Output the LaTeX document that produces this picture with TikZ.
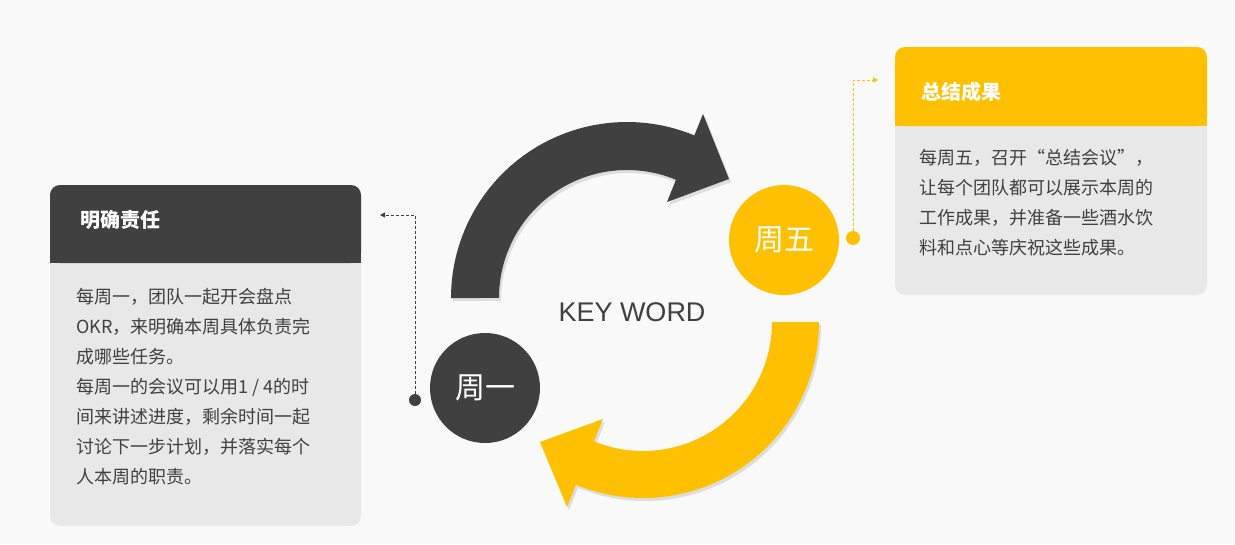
\documentclass[tikz,border=0pt]{standalone}
\usepackage{fontspec}
\setmainfont{Noto Sans CJK SC}
\newfontfamily\cjk{Noto Sans CJK SC}
\newfontfamily\latinsans{Liberation Sans}
\usetikzlibrary{arrows.meta}
\definecolor{dk}{HTML}{404040}
\definecolor{yl}{HTML}{FFC000}
\definecolor{bg}{HTML}{F9F9F9}
\definecolor{bx}{HTML}{E8E8E8}
\definecolor{sh}{HTML}{DDDDDD}
\tikzset{
 body/.style={anchor=west,inner sep=0,font=\cjk\fontsize{18}{18}\selectfont,text=dk},
 head/.style={anchor=west,inner sep=0,font=\cjk\bfseries\fontsize{20}{20}\selectfont,text=white},
 day/.style={circle,minimum size=110pt,inner sep=0,font=\cjk\fontsize{30}{30}\selectfont,text=white},
 link/.style={densely dashed,line width=0.8pt,-{Triangle[length=5pt,width=5pt]}},
 darrow/.pic={\fill (627,298) ++(180:176) arc[start angle=180,end angle=292.5,radius=176] -- (703,114) -- (729,179) -- (667,202) -- (675.98,179.74) arc[start angle=292.5,end angle=180,radius=128] -- cycle;},
 yarrow/.pic={\fill (643,322) ++(0:176) arc[start angle=0,end angle=112.4,radius=176] -- (567,507) -- (540,442) -- (603,419) -- (593.83,441.26) arc[start angle=112.4,end angle=0,radius=129] -- cycle;}
}
\begin{document}
\begin{tikzpicture}[x=1pt,y=-1pt]
\fill[bg] (0,0) rectangle (1235,544);
\useasboundingbox (0,0) rectangle (1235,544);
% left box
\fill[bx,rounded corners=10pt] (50,185) rectangle (361,526);
\fill[dk,rounded corners=10pt] (50,185) rectangle (361,263);
\fill[dk] (50,230) rectangle (361,263);
\node[head] (h1) at (80,220) {明确责任};
\foreach \t [count=\i from 0] in {每周一，团队一起开会盘点,OKR，来明确本周具体负责完,成哪些任务。,每周一的会议可以用1 / 4的时,间来讲述进度，剩余时间一起,讨论下一步计划，并落实每个,人本周的职责。}
  \node[body] (l\i) at (76,297+30*\i) {\t};
% right box
\fill[bx,rounded corners=10pt] (895,47) rectangle (1207,295);
\fill[yl,rounded corners=10pt] (895,47) rectangle (1207,126);
\fill[yl] (895,95) rectangle (1207,126);
\node[head] (h2) at (921,92) {总结成果};
\foreach \t [count=\i from 0] in {每周五，召开“总结会议”，,让每个团队都可以展示本周的,工作成果，并准备一些酒水饮,料和点心等庆祝这些成果。}
  \node[body] (r\i) at (919,158+30*\i) {\t};
% arrows
\pic[sh] at (2,3) {darrow};
\pic[sh] at (2,3) {yarrow};
\pic[dk] at (0,0) {darrow};
\pic[yl] at (0,0) {yarrow};
\node[day,fill=dk] (mon) at (485,388) {周一};
\node[day,fill=yl] (fri) at (784,240) {周五};
\node[font=\latinsans\fontsize{27}{27}\selectfont,text=dk] (kw) at (632,312) {KEY WORD};
% connectors
\node[circle,fill=dk,minimum size=12pt,inner sep=0] (d1) at (415,400) {};
\coordinate (e1) at (380,215);
\draw[link,dk] (d1) -- (415,215) -- (e1);
\node[circle,fill=yl,minimum size=14pt,inner sep=0] (d2) at (853,238) {};
\coordinate (e2) at (878,80);
\draw[link,yl] (d2) -- (853,80) -- (e2);
\end{tikzpicture}
\end{document}
